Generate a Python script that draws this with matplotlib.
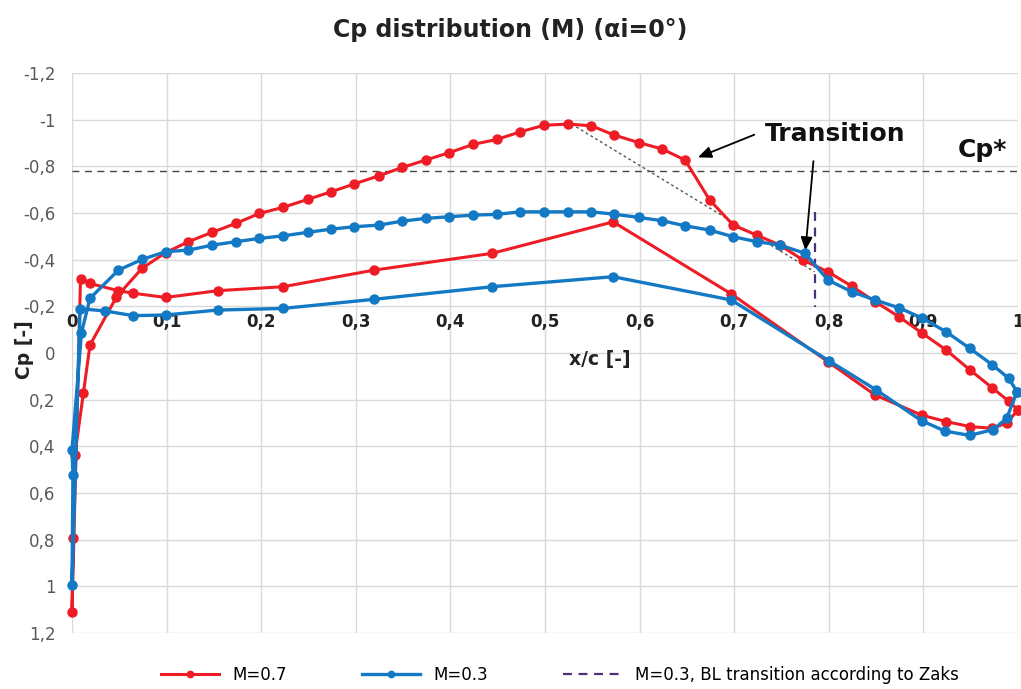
import matplotlib
matplotlib.use("Agg")
import matplotlib.pyplot as plt
from matplotlib.ticker import FuncFormatter, MultipleLocator

# M=0.7, upper surface from leading edge (stagnation) to trailing edge
x_up_07 = [0.0, 0.001, 0.003, 0.012, 0.019, 0.047, 0.074, 0.099, 0.123, 0.148, 0.173, 0.198,
           0.223, 0.249, 0.274, 0.298, 0.324, 0.349, 0.374, 0.399, 0.424, 0.449, 0.474, 0.499,
           0.524, 0.549, 0.573, 0.599, 0.624, 0.648, 0.674, 0.699, 0.724, 0.748, 0.773, 0.799,
           0.824, 0.849, 0.874, 0.899, 0.924, 0.949, 0.973, 0.990, 1.0]
cp_up_07 = [1.112, 0.794, 0.437, 0.173, -0.034, -0.24, -0.363, -0.43, -0.477, -0.517, -0.555, -0.598,
            -0.624, -0.658, -0.691, -0.724, -0.759, -0.795, -0.827, -0.859, -0.894, -0.915, -0.948, -0.976,
            -0.981, -0.974, -0.934, -0.902, -0.874, -0.827, -0.656, -0.548, -0.505, -0.463, -0.398, -0.348,
            -0.287, -0.220, -0.156, -0.084, -0.013, 0.072, 0.150, 0.206, 0.244]
# M=0.7, lower surface from leading edge to trailing edge
x_lo_07 = [0.009, 0.019, 0.049, 0.065, 0.099, 0.154, 0.223, 0.319, 0.444, 0.572, 0.697, 0.799,
           0.849, 0.898, 0.924, 0.949, 0.973, 0.988, 1.0]
cp_lo_07 = [-0.317, -0.298, -0.267, -0.256, -0.238, -0.267, -0.284, -0.355, -0.427, -0.562, -0.253, 0.037,
            0.180, 0.266, 0.294, 0.315, 0.323, 0.300, 0.244]

# M=0.3, upper surface
x_up_03 = [0.0, 0.001, 0.0, 0.010, 0.019, 0.049, 0.074, 0.099, 0.123, 0.148, 0.173, 0.198,
           0.223, 0.249, 0.274, 0.298, 0.324, 0.349, 0.374, 0.399, 0.424, 0.449, 0.474, 0.499,
           0.524, 0.549, 0.573, 0.599, 0.624, 0.648, 0.674, 0.699, 0.724, 0.748, 0.775, 0.799,
           0.824, 0.849, 0.874, 0.899, 0.924, 0.949, 0.973, 0.990, 0.999]
cp_up_03 = [0.994, 0.522, 0.415, -0.087, -0.234, -0.355, -0.401, -0.434, -0.441, -0.462, -0.477, -0.491,
            -0.502, -0.517, -0.531, -0.541, -0.548, -0.565, -0.577, -0.584, -0.591, -0.594, -0.605, -0.605,
            -0.605, -0.605, -0.595, -0.581, -0.567, -0.545, -0.527, -0.498, -0.477, -0.463, -0.427, -0.313,
            -0.263, -0.227, -0.194, -0.149, -0.091, -0.020, 0.051, 0.108, 0.166]
# M=0.3, lower surface
x_lo_03 = [0.0085, 0.035, 0.065, 0.099, 0.154, 0.223, 0.319, 0.444, 0.572, 0.697, 0.800, 0.850,
           0.898, 0.923, 0.949, 0.974, 0.988, 0.999]
cp_lo_03 = [-0.19, -0.18, -0.16, -0.163, -0.184, -0.191, -0.230, -0.284, -0.327, -0.227, 0.033, 0.158,
            0.290, 0.335, 0.353, 0.328, 0.280, 0.166]

cp_star = -0.78
x_zaks = 0.785
zaks_cp = [-0.605, -0.198]
sonic_x = [0.533, 0.785]
sonic_cp = [-0.969, -0.348]

red = "#ee1c24"
blue = "#1479c4"
purple = "#4e2f7a"

fig = plt.figure(figsize=(10.21, 6.89), dpi=100)
ax = fig.add_axes([72 / 1021, 1 - 633 / 689, 946 / 1021, 560 / 689])

# one line per Mach number: upper surface TE -> LE, then lower surface LE -> TE
red_x = x_up_07[::-1] + x_lo_07
red_cp = cp_up_07[::-1] + cp_lo_07
blue_x = x_up_03[::-1] + x_lo_03
blue_cp = cp_up_03[::-1] + cp_lo_03

ax.plot(red_x, red_cp, color=red, lw=2.2, marker="o", ms=6.5, label="M=0.7", zorder=4, clip_on=False)
ax.plot(blue_x, blue_cp, color=blue, lw=2.4, marker="o", ms=6.5, label="M=0.3", zorder=5, clip_on=False)
ax.plot([x_zaks, x_zaks], zaks_cp, color=purple, lw=1.6, ls=(0, (4, 3)),
        label="M=0.3, BL transition according to Zaks", zorder=3)
ax.axhline(cp_star, color="#444444", lw=1, ls=(0, (5, 4)), zorder=2)
ax.plot(sonic_x, sonic_cp, color="#555555", lw=1, ls=(0, (2, 2)), zorder=2)

ax.set_xlim(0, 1)
ax.set_ylim(1.2, -1.2)
ax.xaxis.set_major_locator(MultipleLocator(0.1))
ax.yaxis.set_major_locator(MultipleLocator(0.2))
comma = FuncFormatter(lambda v, p: ("%g" % round(v, 2)).replace(".", ","))
ax.xaxis.set_major_formatter(comma)
ax.yaxis.set_major_formatter(comma)

for s in ax.spines.values():
    s.set_visible(False)
ax.spines["top"].set_position(("data", 0))
ax.xaxis.set_ticks_position("top")
ax.tick_params(axis="x", length=0, pad=16, labelsize=12, labelcolor="#222222")
for lab in ax.get_xticklabels():
    lab.set_fontweight("bold")
ax.tick_params(axis="y", length=0, pad=12, labelsize=12, labelcolor="#595959")
ax.grid(True, color="#d9d9d9", lw=1)
ax.set_axisbelow(True)

fig.text(0.5, 1 - 30 / 689, "Cp distribution (M) (\u03b1i=0\u00b0)", ha="center", va="center",
         fontsize=17, fontweight="bold", color="#222222")
fig.text(24 / 1021, 1 - 350 / 689, "Cp [-]", rotation=90, ha="center", va="center",
         fontsize=13.5, fontweight="bold", color="#222222")
ax.text(0.558, 0.03, "x/c [-]", ha="center", va="center", fontsize=13.5, fontweight="bold", color="#222222")

ax.text(0.807, -0.94, "Transition", ha="center", va="center", fontsize=18, fontweight="bold", color="#111111")
ax.text(0.962, -0.87, "Cp*", ha="center", va="center", fontsize=18, fontweight="bold", color="#111111")
arrow = dict(arrowstyle="-|>,head_length=0.8,head_width=0.35", color="black", lw=1.3)
ax.annotate("", xy=(0.659, -0.834), xytext=(0.724, -0.94), arrowprops=arrow)
ax.annotate("", xy=(0.775, -0.427), xytext=(0.784, -0.834), arrowprops=arrow)

fig.legend(loc="center", bbox_to_anchor=(0.548, 1 - 675 / 689), ncol=3, frameon=False,
           prop={"size": 12}, columnspacing=4.5, handlelength=3.5, markerscale=0.7)

plt.savefig("out.png", dpi=100)
